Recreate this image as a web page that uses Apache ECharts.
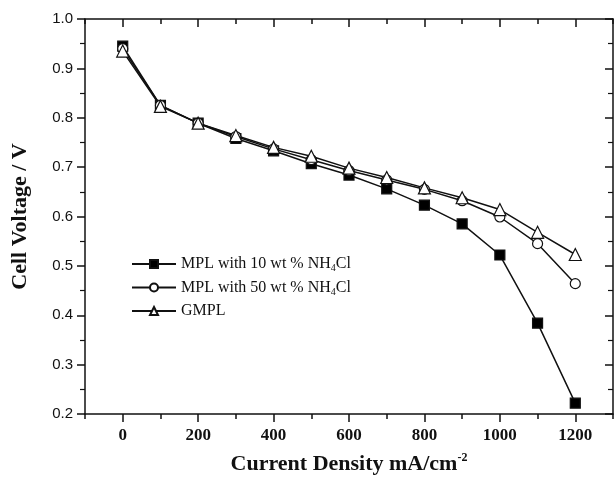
<!DOCTYPE html>
<html>
<head>
<meta charset="utf-8">
<script src="https://cdn.jsdelivr.net/npm/echarts@6/dist/echarts.min.js"></script>
<style>
  html, body { margin: 0; padding: 0; background: #fff; }
  #chart { width: 614px; height: 484px; }
</style>
</head>
<body>
<div id="chart"></div>
<script>
// current density (mA/cm2)
var current = [0, 100, 200, 300, 400, 500, 600, 700, 800, 900, 1000, 1100, 1200];
// cell voltage (V)
var mpl10 = [0.945, 0.825, 0.789, 0.758, 0.733, 0.707, 0.684, 0.656, 0.623, 0.585, 0.522, 0.384, 0.222];
var mpl50 = [0.940, 0.825, 0.789, 0.762, 0.737, 0.715, 0.693, 0.674, 0.655, 0.632, 0.599, 0.545, 0.464];
var gmpl  = [0.935, 0.823, 0.789, 0.764, 0.740, 0.722, 0.698, 0.679, 0.658, 0.638, 0.614, 0.568, 0.523];
var seriesNames = ['MPL with 10 wt % NH4Cl', 'MPL with 50 wt % NH4Cl', 'GMPL'];
// x ticks
var xMajor = [0, 200, 400, 600, 800, 1000, 1200];
var xMinor = [-100, 100, 300, 500, 700, 900, 1100, 1300];

function pairs(ys) {
    var out = [];
    for (var i = 0; i < current.length; i++) {
        out.push([current[i], ys[i]]);
    }
    return out;
}

var myChart = echarts.init(document.getElementById('chart'));
var serif = '"Liberation Serif", "Times New Roman", serif';
var sans = '"Liberation Sans", Arial, sans-serif';
var ink = '#111';

function lineSeries(name, ys, symbol, fill) {
    return {
        name: name,
        type: 'line',
        data: pairs(ys),
        symbol: symbol,
        symbolSize: symbol === 'triangle' ? 12 : 10,
        showSymbol: true,
        lineStyle: { color: ink, width: 1.5 },
        itemStyle: { color: fill, borderColor: ink, borderWidth: 1.2 },
        z: symbol === 'rect' ? 2 : 3
    };
}

// one x axis (bottom or top); ticks drawn from custom values
function xAxisDef(pos, ticks, len, inside, showLine, labels) {
    return {
        type: 'value',
        min: -100,
        max: 1300,
        interval: 100,
        position: pos,
        axisLine: { show: showLine, onZero: false, lineStyle: { color: ink, width: 1.5 } },
        axisTick: { inside: inside, length: len, customValues: ticks, lineStyle: { color: ink, width: 1.5 } },
        splitLine: { show: false },
        axisLabel: labels ? {
            customValues: xMajor,
            fontFamily: serif, fontSize: 17, fontWeight: 'bold', color: ink, margin: 13,
            formatter: function (v) { return String(v); }
        } : { show: false }
    };
}

var bottomAxis = xAxisDef('bottom', xMajor, 8, false, true, true);
bottomAxis.name = '{n|Current Density mA/cm}{sup|-2}';
bottomAxis.nameLocation = 'middle';
bottomAxis.nameGap = 38;
bottomAxis.nameTextStyle = {
    rich: {
        n: { fontFamily: serif, fontSize: 22, fontWeight: 'bold', color: ink },
        sup: { fontFamily: serif, fontSize: 12, fontWeight: 'bold', color: ink, padding: [0, 0, 12, 0] }
    }
};

var option = {
    animation: false,
    backgroundColor: '#fff',
    grid: { left: 85, top: 19, right: 1, bottom: 70 },
    legend: {
        orient: 'vertical',
        left: 126,
        top: 251,
        itemWidth: 44,
        itemHeight: 10,
        itemGap: 6,
        textStyle: {
            fontFamily: serif,
            fontSize: 16,
            color: ink,
            rich: {
                n: { fontFamily: serif, fontSize: 16, color: ink },
                s: { fontFamily: serif, fontSize: 10, color: ink, padding: [9, 0, 0, 0] }
            }
        },
        formatter: function (name) {
            if (name.indexOf('NH4Cl') >= 0) {
                var head = name.replace('NH4Cl', '');
                return '{n|' + head + 'NH}{s|4}{n|Cl}';
            }
            return '{n|' + name + '}';
        },
        data: seriesNames
    },
    xAxis: [
        bottomAxis,
        xAxisDef('bottom', xMinor, 5, false, false, false),
        xAxisDef('top', xMajor, 8, true, true, false),
        xAxisDef('top', xMinor, 5, true, false, false)
    ],
    yAxis: [{
        type: 'value',
        min: 0.2,
        max: 1.0,
        interval: 0.1,
        position: 'left',
        name: 'Cell Voltage / V',
        nameLocation: 'middle',
        nameGap: 54,
        nameTextStyle: { fontFamily: serif, fontSize: 22, fontWeight: 'bold', color: ink },
        axisLine: { onZero: false, lineStyle: { color: ink, width: 1.5 } },
        axisTick: { inside: false, length: 8, lineStyle: { color: ink, width: 1.5 } },
        minorTick: { show: true, splitNumber: 2, length: 5, lineStyle: { color: ink, width: 1.2 } },
        splitLine: { show: false },
        axisLabel: {
            fontFamily: sans, fontSize: 15, color: ink, margin: 12,
            formatter: function (v) { return v.toFixed(1); }
        }
    }, {
        type: 'value',
        min: 0.2,
        max: 1.0,
        interval: 0.1,
        position: 'right',
        axisLine: { onZero: false, lineStyle: { color: ink, width: 1.5 } },
        axisTick: { inside: true, length: 8, lineStyle: { color: ink, width: 1.5 } },
        minorTick: { show: true, splitNumber: 2, length: 5, lineStyle: { color: ink, width: 1.2 } },
        splitLine: { show: false },
        axisLabel: { show: false }
    }],
    series: [
        lineSeries(seriesNames[0], mpl10, 'rect', '#000'),
        lineSeries(seriesNames[1], mpl50, 'circle', '#fff'),
        lineSeries(seriesNames[2], gmpl, 'triangle', '#fff')
    ]
};

myChart.setOption(option, true);
</script>
</body>
</html>
